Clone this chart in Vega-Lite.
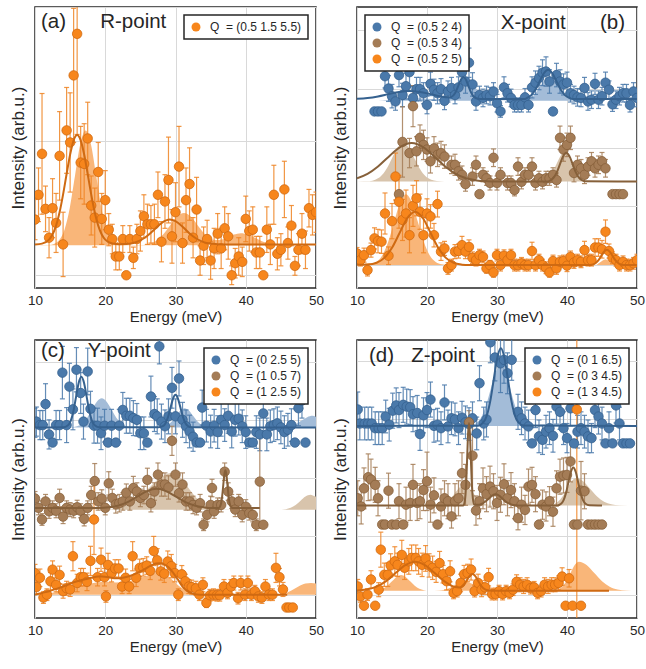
{
"$schema": "https://vega.github.io/schema/vega-lite/v6.json",
"padding": {"left": 8, "top": 6, "right": 0, "bottom": 4},
"config": {
 "font": "Liberation Sans",
 "view": {"stroke": "#262626", "strokeWidth": 1.5},
 "axis": {"domain": false, "ticks": false, "grid": true, "gridColor": "#d9d9d9", "gridWidth": 1, "labelFont": "Liberation Sans", "labelFontSize": 13.5, "labelColor": "#262626", "titleFont": "Liberation Sans", "titleFontWeight": "normal", "titleColor": "#262626"},
 "axisX": {"titleFontSize": 15, "labelPadding": 5, "titlePadding": 3, "labelFlush": false},
 "axisY": {"labels": false, "titleFontSize": 17, "titlePadding": 8},
 "legend": {"fillColor": "white", "strokeColor": "#262626", "strokeWidth": 1.5, "padding": 6, "offset": 8, "labelFont": "Liberation Sans", "labelFontSize": 12, "labelColor": "#262626", "symbolType": "circle", "symbolSize": 80, "symbolStrokeWidth": 0, "rowPadding": 4, "labelOffset": 8},
 "title": {"font": "Liberation Sans", "fontSize": 20.5, "fontWeight": "normal", "color": "#262626", "frame": "group", "baseline": "alphabetic"}
},
"datasets": {
"aP": [
{"s":"or","x":10,"y":0.415,"e":0.15},{"s":"or","x":10.5,"y":0.6,"e":0.2},{"s":"or","x":11,"y":0.905,"e":0.45},{"s":"or","x":11.5,"y":0.495,"e":0.17},{"s":"or","x":12,"y":0.28,"e":0.15},{"s":"or","x":12.5,"y":0.5,"e":0.22},{"s":"or","x":13,"y":0.39,"e":0.22},{"s":"or","x":13.5,"y":0.89,"e":0.33},{"s":"or","x":14,"y":0.23,"e":0.24},{"s":"or","x":14.5,"y":1.08,"e":0.32},{"s":"or","x":15,"y":0.99,"e":0.37},{"s":"or","x":15.5,"y":1.49,"e":0.5},{"s":"or","x":16,"y":1.8,"e":0.75},{"s":"or","x":16.5,"y":0.84,"e":0.27},{"s":"or","x":17,"y":0.83,"e":0.3},{"s":"or","x":17.5,"y":1.02,"e":0.27},{"s":"or","x":18,"y":0.52,"e":0.22},{"s":"or","x":18.5,"y":0.43,"e":0.22},{"s":"or","x":19,"y":0.77,"e":0.22},{"s":"or","x":19.5,"y":0.42,"e":0.19},{"s":"or","x":20,"y":0.56,"e":0.22},{"s":"or","x":20.5,"y":0.34,"e":0.12},{"s":"or","x":21,"y":0.27,"e":0.11},{"s":"or","x":21.5,"y":0.14,"e":0.1},{"s":"or","x":22,"y":0.14,"e":0.1},{"s":"or","x":22.5,"y":0.27,"e":0.1},{"s":"or","x":23,"y":0,"e":0},{"s":"or","x":23.5,"y":0.27,"e":0.1},{"s":"or","x":24,"y":0.13,"e":0.08},{"s":"or","x":24.5,"y":0.27,"e":0.11},{"s":"or","x":25,"y":0.33,"e":0.15},{"s":"or","x":25.5,"y":0.44,"e":0.16},{"s":"or","x":26,"y":0.38,"e":0.15},{"s":"or","x":26.5,"y":0.38,"e":0.14},{"s":"or","x":27,"y":0.38,"e":0.15},{"s":"or","x":27.5,"y":0.6,"e":0.17},{"s":"or","x":28,"y":0.25,"e":0.15},{"s":"or","x":28.5,"y":0.55,"e":0.2},{"s":"or","x":29,"y":0.71,"e":0.32},{"s":"or","x":29.5,"y":0.29,"e":0.2},{"s":"or","x":30,"y":0.47,"e":0.22},{"s":"or","x":30.5,"y":0.81,"e":0.3},{"s":"or","x":31,"y":0.24,"e":0.15},{"s":"or","x":31.5,"y":0.56,"e":0.24},{"s":"or","x":32,"y":0.68,"e":0.27},{"s":"or","x":32.5,"y":0.28,"e":0.15},{"s":"or","x":33,"y":0.49,"e":0.24},{"s":"or","x":33.5,"y":0.11,"e":0.11},{"s":"or","x":34,"y":0.22,"e":0.14},{"s":"or","x":34.5,"y":0.27,"e":0.14},{"s":"or","x":35,"y":0.11,"e":0.14},{"s":"or","x":35.5,"y":0.2,"e":0.15},{"s":"or","x":36,"y":0.31,"e":0.15},{"s":"or","x":36.5,"y":0.2,"e":0.15},{"s":"or","x":37,"y":0.35,"e":0.16},{"s":"or","x":37.5,"y":0.29,"e":0.17},{"s":"or","x":38,"y":0,"e":0.07},{"s":"or","x":38.5,"y":0.09,"e":0.11},{"s":"or","x":39,"y":0.14,"e":0.14},{"s":"or","x":39.5,"y":0.1,"e":0.11},{"s":"or","x":40,"y":0.42,"e":0.17},{"s":"or","x":40.5,"y":0.33,"e":0.15},{"s":"or","x":41,"y":0.34,"e":0.17},{"s":"or","x":41.5,"y":0.17,"e":0.12},{"s":"or","x":42,"y":0.17,"e":0.12},{"s":"or","x":42.5,"y":0,"e":0},{"s":"or","x":43,"y":0.34,"e":0.17},{"s":"or","x":43.5,"y":0.23,"e":0.15},{"s":"or","x":44,"y":0.6,"e":0.22},{"s":"or","x":44.5,"y":0.16,"e":0.12},{"s":"or","x":45,"y":0.19,"e":0.12},{"s":"or","x":45.5,"y":0.64,"e":0.21},{"s":"or","x":46,"y":0.24,"e":0.12},{"s":"or","x":46.5,"y":0.37,"e":0.15},{"s":"or","x":47,"y":0.07,"e":0.07},{"s":"or","x":47.5,"y":0.19,"e":0.12},{"s":"or","x":48,"y":0.31,"e":0.15},{"s":"or","x":48.5,"y":0.19,"e":0.14},{"s":"or","x":49,"y":0.5,"e":0.14},{"s":"or","x":49.5,"y":0.45,"e":0.15},{"s":"or","x":50,"y":0.47,"e":0.15}
],
"aF": [
{"s":"or","x":10,"y":0.23},{"s":"or","x":11,"y":0.236},{"s":"or","x":12,"y":0.266},{"s":"or","x":12.5,"y":0.304},{"s":"or","x":13,"y":0.37},{"s":"or","x":13.5,"y":0.47},{"s":"or","x":14,"y":0.603},{"s":"or","x":14.5,"y":0.755},{"s":"or","x":15,"y":0.9},{"s":"or","x":15.5,"y":1.006},{"s":"or","x":16,"y":1.045},{"s":"or","x":16.5,"y":1.006},{"s":"or","x":17,"y":0.9},{"s":"or","x":17.5,"y":0.755},{"s":"or","x":18,"y":0.603},{"s":"or","x":18.5,"y":0.47},{"s":"or","x":19,"y":0.37},{"s":"or","x":19.5,"y":0.304},{"s":"or","x":20,"y":0.266},{"s":"or","x":21,"y":0.237},{"s":"or","x":22,"y":0.232},{"s":"or","x":23,"y":0.233},{"s":"or","x":24,"y":0.241},{"s":"or","x":25,"y":0.26},{"s":"or","x":26,"y":0.294},{"s":"or","x":27,"y":0.342},{"s":"or","x":28,"y":0.389},{"s":"or","x":29.2,"y":0.415},{"s":"or","x":30,"y":0.403},{"s":"or","x":31,"y":0.362},{"s":"or","x":32,"y":0.312},{"s":"or","x":33,"y":0.272},{"s":"or","x":34,"y":0.247},{"s":"or","x":35,"y":0.236},{"s":"or","x":36,"y":0.232},{"s":"or","x":38,"y":0.23},{"s":"or","x":50,"y":0.23}
],
"aA": [
{"s":"or","x":10,"y":0.224,"b":0.224},{"s":"or","x":12,"y":0.225,"b":0.224},{"s":"or","x":12.7,"y":0.233,"b":0.224},{"s":"or","x":13.45,"y":0.262,"b":0.224},{"s":"or","x":14.2,"y":0.34,"b":0.224},{"s":"or","x":14.95,"y":0.502,"b":0.224},{"s":"or","x":15.7,"y":0.744,"b":0.224},{"s":"or","x":16.45,"y":0.979,"b":0.224},{"s":"or","x":17.2,"y":1.08,"b":0.224},{"s":"or","x":17.95,"y":0.979,"b":0.224},{"s":"or","x":18.7,"y":0.744,"b":0.224},{"s":"or","x":19.45,"y":0.502,"b":0.224},{"s":"or","x":20.2,"y":0.34,"b":0.224},{"s":"or","x":20.95,"y":0.262,"b":0.224},{"s":"or","x":21.7,"y":0.233,"b":0.224},{"s":"or","x":22.5,"y":0.225,"b":0.224},{"s":"or","x":25.5,"y":0.226,"b":0.224},{"s":"or","x":26.2,"y":0.235,"b":0.224},{"s":"or","x":27.2,"y":0.256,"b":0.224},{"s":"or","x":28.2,"y":0.302,"b":0.224},{"s":"or","x":29.2,"y":0.37,"b":0.224},{"s":"or","x":30.2,"y":0.436,"b":0.224},{"s":"or","x":31.2,"y":0.464,"b":0.224},{"s":"or","x":32.2,"y":0.436,"b":0.224},{"s":"or","x":33.2,"y":0.37,"b":0.224},{"s":"or","x":34.2,"y":0.306,"b":0.224},{"s":"or","x":35.2,"y":0.267,"b":0.224},{"s":"or","x":36.2,"y":0.262,"b":0.224},{"s":"or","x":37.3,"y":0.281,"b":0.224},{"s":"or","x":38.3,"y":0.303,"b":0.224},{"s":"or","x":39.3,"y":0.314,"b":0.224},{"s":"or","x":40.3,"y":0.303,"b":0.224},{"s":"or","x":41.3,"y":0.279,"b":0.224},{"s":"or","x":42.3,"y":0.253,"b":0.224},{"s":"or","x":43.3,"y":0.236,"b":0.224},{"s":"or","x":44.3,"y":0.227,"b":0.224},{"s":"or","x":46,"y":0.224,"b":0.224},{"s":"or","x":50,"y":0.224,"b":0.224}
],
"bP": [
{"s":"bl","x":12.5,"y":2.62,"e":0},{"s":"bl","x":13,"y":2.62,"e":0},{"s":"bl","x":13.5,"y":2.62,"e":0},{"s":"bl","x":14,"y":3.22,"e":0.2},{"s":"bl","x":14.5,"y":3.01,"e":0.22},{"s":"bl","x":15,"y":2.88,"e":0.2},{"s":"bl","x":15.5,"y":2.79,"e":0.15},{"s":"bl","x":16,"y":3.24,"e":0.2},{"s":"bl","x":16.5,"y":2.9,"e":0.2},{"s":"bl","x":17,"y":3.05,"e":0.22},{"s":"bl","x":17.5,"y":3.29,"e":0.25},{"s":"bl","x":18,"y":2.85,"e":0.2},{"s":"bl","x":18.5,"y":3.0,"e":0.2},{"s":"bl","x":19,"y":3.0,"e":0.2},{"s":"bl","x":19.5,"y":2.93,"e":0.18},{"s":"bl","x":20,"y":2.73,"e":0.15},{"s":"bl","x":20.5,"y":3.09,"e":0.2},{"s":"bl","x":21,"y":2.99,"e":0.18},{"s":"bl","x":21.5,"y":2.93,"e":0.18},{"s":"bl","x":22,"y":3.0,"e":0.18},{"s":"bl","x":22.5,"y":2.8,"e":0.15},{"s":"bl","x":23,"y":2.96,"e":0.18},{"s":"bl","x":23.5,"y":3.02,"e":0.18},{"s":"bl","x":24,"y":2.9,"e":0.15},{"s":"bl","x":24.5,"y":3.03,"e":0.18},{"s":"bl","x":25,"y":3.29,"e":0.2},{"s":"bl","x":25.5,"y":3.13,"e":0.2},{"s":"bl","x":26,"y":3.45,"e":0.25},{"s":"bl","x":26.5,"y":3.08,"e":0.2},{"s":"bl","x":27,"y":2.79,"e":0.15},{"s":"bl","x":27.5,"y":2.9,"e":0.15},{"s":"bl","x":28,"y":2.85,"e":0.15},{"s":"bl","x":28.5,"y":2.9,"e":0.15},{"s":"bl","x":29,"y":2.88,"e":0.15},{"s":"bl","x":29.5,"y":2.96,"e":0.15},{"s":"bl","x":30,"y":2.76,"e":0.15},{"s":"bl","x":30.5,"y":2.62,"e":0.1},{"s":"bl","x":31,"y":3.03,"e":0.18},{"s":"bl","x":31.5,"y":2.93,"e":0.15},{"s":"bl","x":32,"y":2.85,"e":0.15},{"s":"bl","x":32.5,"y":2.73,"e":0.12},{"s":"bl","x":33,"y":2.73,"e":0.12},{"s":"bl","x":33.5,"y":2.73,"e":0.12},{"s":"bl","x":34,"y":2.86,"e":0.15},{"s":"bl","x":34.5,"y":2.73,"e":0.12},{"s":"bl","x":35,"y":3.03,"e":0.18},{"s":"bl","x":35.5,"y":3.11,"e":0.2},{"s":"bl","x":36,"y":3.19,"e":0.2},{"s":"bl","x":36.5,"y":3.28,"e":0.22},{"s":"bl","x":37,"y":3.3,"e":0.25},{"s":"bl","x":37.5,"y":3.13,"e":0.2},{"s":"bl","x":38,"y":2.62,"e":0},{"s":"bl","x":38.5,"y":3.24,"e":0.2},{"s":"bl","x":39,"y":3.13,"e":0.2},{"s":"bl","x":39.5,"y":3.08,"e":0.18},{"s":"bl","x":40,"y":3.11,"e":0.18},{"s":"bl","x":40.5,"y":2.93,"e":0.15},{"s":"bl","x":41,"y":2.9,"e":0.15},{"s":"bl","x":41.5,"y":2.86,"e":0.15},{"s":"bl","x":42,"y":2.85,"e":0.15},{"s":"bl","x":42.5,"y":3.02,"e":0.18},{"s":"bl","x":43,"y":2.79,"e":0.15},{"s":"bl","x":43.5,"y":2.82,"e":0.15},{"s":"bl","x":44,"y":3.09,"e":0.18},{"s":"bl","x":44.5,"y":2.82,"e":0.15},{"s":"bl","x":45,"y":2.88,"e":0.15},{"s":"bl","x":45.5,"y":3.11,"e":0.18},{"s":"bl","x":46,"y":2.99,"e":0.15},{"s":"bl","x":46.5,"y":2.74,"e":0.12},{"s":"bl","x":47,"y":2.82,"e":0.15},{"s":"bl","x":47.5,"y":2.88,"e":0.15},{"s":"bl","x":48,"y":2.93,"e":0.15},{"s":"bl","x":48.5,"y":2.93,"e":0.15},{"s":"bl","x":49,"y":2.73,"e":0.12},{"s":"bl","x":49.5,"y":2.96,"e":0.15},{"s":"bl","x":50,"y":2.85,"e":0.15},
{"s":"br","x":16,"y":1.21,"e":0},{"s":"br","x":16.5,"y":2.1,"e":0.6},{"s":"br","x":17.5,"y":1.91,"e":0.25},{"s":"br","x":18,"y":2.71,"e":0.35},{"s":"br","x":18.5,"y":1.94,"e":0.25},{"s":"br","x":19,"y":2.17,"e":0.22},{"s":"br","x":19.5,"y":2.05,"e":0.25},{"s":"br","x":20,"y":1.97,"e":0.2},{"s":"br","x":20.5,"y":1.77,"e":0.2},{"s":"br","x":21,"y":1.99,"e":0.2},{"s":"br","x":21.5,"y":1.88,"e":0.2},{"s":"br","x":22,"y":1.91,"e":0.2},{"s":"br","x":22.5,"y":1.85,"e":0.2},{"s":"br","x":23.5,"y":1.71,"e":0.15},{"s":"br","x":24,"y":1.71,"e":0.18},{"s":"br","x":24.5,"y":1.6,"e":0.15},{"s":"br","x":25,"y":1.54,"e":0.15},{"s":"br","x":25.5,"y":1.38,"e":0.12},{"s":"br","x":26.5,"y":1.51,"e":0.15},{"s":"br","x":27,"y":1.71,"e":0.15},{"s":"br","x":27.5,"y":1.21,"e":0},{"s":"br","x":28,"y":1.54,"e":0.12},{"s":"br","x":28.5,"y":1.48,"e":0.12},{"s":"br","x":29,"y":1.4,"e":0.12},{"s":"br","x":29.5,"y":1.83,"e":0.15},{"s":"br","x":30,"y":1.4,"e":0.12},{"s":"br","x":30.5,"y":1.54,"e":0.12},{"s":"br","x":31.5,"y":1.4,"e":0.12},{"s":"br","x":32,"y":1.4,"e":0.12},{"s":"br","x":32.5,"y":1.28,"e":0.1},{"s":"br","x":33,"y":1.68,"e":0.15},{"s":"br","x":33.5,"y":1.42,"e":0.12},{"s":"br","x":34,"y":1.54,"e":0.12},{"s":"br","x":34.5,"y":1.54,"e":0.12},{"s":"br","x":35,"y":1.68,"e":0.15},{"s":"br","x":35.5,"y":1.4,"e":0.12},{"s":"br","x":36,"y":1.48,"e":0.12},{"s":"br","x":36.5,"y":1.42,"e":0.12},{"s":"br","x":37,"y":1.48,"e":0.12},{"s":"br","x":37.5,"y":1.48,"e":0.12},{"s":"br","x":38,"y":1.54,"e":0.12},{"s":"br","x":38.5,"y":1.45,"e":0.12},{"s":"br","x":39,"y":2.17,"e":0.2},{"s":"br","x":39.5,"y":1.97,"e":0.2},{"s":"br","x":40,"y":2.05,"e":0.2},{"s":"br","x":40.5,"y":2.17,"e":0.2},{"s":"br","x":41,"y":1.57,"e":0.15},{"s":"br","x":41.5,"y":1.71,"e":0.15},{"s":"br","x":42,"y":1.65,"e":0.15},{"s":"br","x":42.5,"y":1.54,"e":0.15},{"s":"br","x":43,"y":1.68,"e":0.15},{"s":"br","x":43.5,"y":1.77,"e":0.15},{"s":"br","x":44,"y":1.65,"e":0.15},{"s":"br","x":44.5,"y":1.71,"e":0.15},{"s":"br","x":45,"y":1.77,"e":0.15},{"s":"br","x":45.5,"y":1.65,"e":0.15},{"s":"br","x":46.5,"y":1.21,"e":0},{"s":"br","x":47,"y":1.21,"e":0},{"s":"br","x":47.5,"y":1.21,"e":0},{"s":"br","x":48,"y":1.21,"e":0},
{"s":"or","x":10,"y":0.2,"e":0.1},{"s":"or","x":10.5,"y":0.085,"e":0.1},{"s":"or","x":11,"y":0.17,"e":0.12},{"s":"or","x":11.5,"y":-0.085,"e":0.1},{"s":"or","x":12,"y":0.256,"e":0.12},{"s":"or","x":12.5,"y":0.456,"e":0.18},{"s":"or","x":13,"y":0.41,"e":0.2},{"s":"or","x":13.5,"y":0.4,"e":0.2},{"s":"or","x":14,"y":0.88,"e":0.35},{"s":"or","x":14.5,"y":0.16,"e":0.15},{"s":"or","x":15,"y":0.75,"e":0.3},{"s":"or","x":15.5,"y":1.51,"e":0.4},{"s":"or","x":16,"y":1.08,"e":0.45},{"s":"or","x":16.5,"y":0.77,"e":0.35},{"s":"or","x":17,"y":0.88,"e":0.4},{"s":"or","x":17.5,"y":0.51,"e":0.3},{"s":"or","x":18,"y":1.01,"e":0.35},{"s":"or","x":18.5,"y":1.14,"e":0.3},{"s":"or","x":19,"y":0.91,"e":0.3},{"s":"or","x":19.5,"y":0.51,"e":0.3},{"s":"or","x":20,"y":0.88,"e":0.25},{"s":"or","x":20.5,"y":0.83,"e":0.2},{"s":"or","x":21,"y":0.51,"e":0.2},{"s":"or","x":21.5,"y":1.04,"e":0.22},{"s":"or","x":22,"y":0.23,"e":0.15},{"s":"or","x":22.5,"y":0.285,"e":0.12},{"s":"or","x":23,"y":-0.057,"e":0.1},{"s":"or","x":23.5,"y":0,"e":0.1},{"s":"or","x":24,"y":0.23,"e":0.12},{"s":"or","x":24.5,"y":0.24,"e":0.12},{"s":"or","x":25,"y":0.34,"e":0.15},{"s":"or","x":25.5,"y":0.23,"e":0.12},{"s":"or","x":26,"y":0.31,"e":0.12},{"s":"or","x":26.5,"y":0.125,"e":0.1},{"s":"or","x":27,"y":0.085,"e":0.1},{"s":"or","x":27.5,"y":0.17,"e":0.1},{"s":"or","x":28,"y":0.14,"e":0.1},{"s":"or","x":28.5,"y":-0.057,"e":0.08},{"s":"or","x":29,"y":0,"e":0.08},{"s":"or","x":29.5,"y":-0.125,"e":0.08},{"s":"or","x":30,"y":0.17,"e":0.1},{"s":"or","x":30.5,"y":0,"e":0.1},{"s":"or","x":31,"y":0.16,"e":0.1},{"s":"or","x":31.5,"y":0.085,"e":0.1},{"s":"or","x":32,"y":0.17,"e":0.1},{"s":"or","x":32.5,"y":0,"e":0.1},{"s":"or","x":33,"y":0,"e":0.1},{"s":"or","x":33.5,"y":0.03,"e":0.1},{"s":"or","x":34,"y":0,"e":0.1},{"s":"or","x":34.5,"y":0,"e":0.1},{"s":"or","x":35,"y":0.24,"e":0.15},{"s":"or","x":35.5,"y":0,"e":0.1},{"s":"or","x":36,"y":0.085,"e":0.1},{"s":"or","x":36.5,"y":0,"e":0.1},{"s":"or","x":37,"y":-0.045,"e":0.1},{"s":"or","x":37.5,"y":-0.125,"e":0.08},{"s":"or","x":38,"y":0.07,"e":0.1},{"s":"or","x":38.5,"y":-0.057,"e":0.1},{"s":"or","x":39,"y":0.057,"e":0.1},{"s":"or","x":39.5,"y":0.07,"e":0.1},{"s":"or","x":40,"y":-0.01,"e":0.1},{"s":"or","x":40.5,"y":0.14,"e":0.1},{"s":"or","x":41,"y":0.045,"e":0.1},{"s":"or","x":41.5,"y":0.085,"e":0.1},{"s":"or","x":42,"y":0.057,"e":0.1},{"s":"or","x":42.5,"y":0.256,"e":0.15},{"s":"or","x":43,"y":0.085,"e":0.1},{"s":"or","x":43.5,"y":0.085,"e":0.1},{"s":"or","x":44,"y":0.3,"e":0.15},{"s":"or","x":44.5,"y":0.3,"e":0.15},{"s":"or","x":45,"y":0.27,"e":0.15},{"s":"or","x":45.5,"y":0.57,"e":0.2},{"s":"or","x":46,"y":0.24,"e":0.12},{"s":"or","x":46.5,"y":0.125,"e":0.1},{"s":"or","x":47,"y":0.085,"e":0.1},{"s":"or","x":47.5,"y":0,"e":0.1},{"s":"or","x":48,"y":0.057,"e":0.1},{"s":"or","x":48.5,"y":0,"e":0.1},{"s":"or","x":49,"y":0,"e":0.1},{"s":"or","x":49.5,"y":0.03,"e":0.1},{"s":"or","x":50,"y":0.085,"e":0.1}
],
"bF": [
{"s":"bl","x":10,"y":2.836},{"s":"bl","x":11.5,"y":2.849},{"s":"bl","x":13,"y":2.876},{"s":"bl","x":14.5,"y":2.915},{"s":"bl","x":16,"y":2.953},{"s":"bl","x":17.5,"y":2.97},{"s":"bl","x":19,"y":2.953},{"s":"bl","x":20.5,"y":2.915},{"s":"bl","x":22,"y":2.876},{"s":"bl","x":23,"y":2.86},{"s":"bl","x":23.5,"y":2.868},{"s":"bl","x":24,"y":2.928},{"s":"bl","x":24.5,"y":3.064},{"s":"bl","x":24.85,"y":3.163},{"s":"bl","x":25.2,"y":3.206},{"s":"bl","x":25.55,"y":3.163},{"s":"bl","x":25.9,"y":3.06},{"s":"bl","x":26.25,"y":2.955},{"s":"bl","x":26.6,"y":2.883},{"s":"bl","x":27.3,"y":2.834},{"s":"bl","x":28,"y":2.83},{"s":"bl","x":34,"y":2.83},{"s":"bl","x":34.3,"y":2.852},{"s":"bl","x":34.9,"y":2.898},{"s":"bl","x":35.5,"y":2.992},{"s":"bl","x":36.1,"y":3.133},{"s":"bl","x":36.7,"y":3.271},{"s":"bl","x":37.3,"y":3.33},{"s":"bl","x":37.9,"y":3.271},{"s":"bl","x":38.5,"y":3.133},{"s":"bl","x":39.1,"y":2.992},{"s":"bl","x":39.7,"y":2.898},{"s":"bl","x":40.3,"y":2.852},{"s":"bl","x":41,"y":2.83},{"s":"bl","x":50,"y":2.83},
{"s":"br","x":10,"y":1.48},{"s":"br","x":11.5,"y":1.555},{"s":"br","x":13,"y":1.681},{"s":"br","x":14.5,"y":1.845},{"s":"br","x":16,"y":1.999},{"s":"br","x":17.8,"y":2.08},{"s":"br","x":19.6,"y":1.999},{"s":"br","x":21.1,"y":1.845},{"s":"br","x":22.6,"y":1.681},{"s":"br","x":24.1,"y":1.555},{"s":"br","x":25.6,"y":1.48},{"s":"br","x":27.1,"y":1.444},{"s":"br","x":28.6,"y":1.431},{"s":"br","x":30,"y":1.427},{"s":"br","x":37.2,"y":1.425},{"s":"br","x":37.6,"y":1.444},{"s":"br","x":38.1,"y":1.491},{"s":"br","x":38.55,"y":1.584},{"s":"br","x":39,"y":1.722},{"s":"br","x":39.45,"y":1.857},{"s":"br","x":39.9,"y":1.915},{"s":"br","x":40.35,"y":1.857},{"s":"br","x":40.8,"y":1.722},{"s":"br","x":41.25,"y":1.584},{"s":"br","x":41.7,"y":1.491},{"s":"br","x":42.2,"y":1.444},{"s":"br","x":42.6,"y":1.43},{"s":"br","x":50,"y":1.425},
{"s":"or","x":10,"y":0.005},{"s":"or","x":11.5,"y":0.01},{"s":"or","x":12.8,"y":0.04},{"s":"or","x":13.9,"y":0.123},{"s":"or","x":15,"y":0.296},{"s":"or","x":16.1,"y":0.552},{"s":"or","x":17.2,"y":0.803},{"s":"or","x":18.3,"y":0.91},{"s":"or","x":19.4,"y":0.803},{"s":"or","x":20.5,"y":0.552},{"s":"or","x":21.6,"y":0.296},{"s":"or","x":22.7,"y":0.123},{"s":"or","x":23.8,"y":0.04},{"s":"or","x":25,"y":0.008},{"s":"or","x":26,"y":0},{"s":"or","x":43,"y":0},{"s":"or","x":43.7,"y":0.011},{"s":"or","x":44.1,"y":0.035},{"s":"or","x":44.5,"y":0.085},{"s":"or","x":44.9,"y":0.158},{"s":"or","x":45.3,"y":0.229},{"s":"or","x":45.7,"y":0.26},{"s":"or","x":46.1,"y":0.229},{"s":"or","x":46.5,"y":0.158},{"s":"or","x":46.9,"y":0.085},{"s":"or","x":47.3,"y":0.035},{"s":"or","x":47.7,"y":0.011},{"s":"or","x":48.5,"y":0},{"s":"or","x":50,"y":0}
],
"bA": [
{"s":"bl","x":10,"y":2.8,"b":2.8},{"s":"bl","x":13,"y":2.802,"b":2.8},{"s":"bl","x":15.5,"y":2.83,"b":2.8},{"s":"bl","x":18,"y":2.85,"b":2.8},{"s":"bl","x":20.5,"y":2.83,"b":2.8},{"s":"bl","x":22.55,"y":2.816,"b":2.8},{"s":"bl","x":23.2,"y":2.845,"b":2.8},{"s":"bl","x":23.85,"y":2.907,"b":2.8},{"s":"bl","x":24.5,"y":3.0,"b":2.8},{"s":"bl","x":25.15,"y":3.091,"b":2.8},{"s":"bl","x":25.8,"y":3.13,"b":2.8},{"s":"bl","x":26.45,"y":3.091,"b":2.8},{"s":"bl","x":27.1,"y":3.0,"b":2.8},{"s":"bl","x":27.75,"y":2.907,"b":2.8},{"s":"bl","x":28.4,"y":2.845,"b":2.8},{"s":"bl","x":29.05,"y":2.816,"b":2.8},{"s":"bl","x":29.7,"y":2.805,"b":2.8},{"s":"bl","x":33.5,"y":2.806,"b":2.8},{"s":"bl","x":34.25,"y":2.818,"b":2.8},{"s":"bl","x":34.9,"y":2.857,"b":2.8},{"s":"bl","x":35.55,"y":2.937,"b":2.8},{"s":"bl","x":36.2,"y":3.055,"b":2.8},{"s":"bl","x":36.85,"y":3.17,"b":2.8},{"s":"bl","x":37.5,"y":3.22,"b":2.8},{"s":"bl","x":38.15,"y":3.17,"b":2.8},{"s":"bl","x":38.8,"y":3.055,"b":2.8},{"s":"bl","x":39.45,"y":2.937,"b":2.8},{"s":"bl","x":40.1,"y":2.857,"b":2.8},{"s":"bl","x":40.75,"y":2.818,"b":2.8},{"s":"bl","x":41.5,"y":2.803,"b":2.8},{"s":"bl","x":50,"y":2.8,"b":2.8},
{"s":"br","x":10,"y":1.425,"b":1.425},{"s":"br","x":11.8,"y":1.428,"b":1.425},{"s":"br","x":12.6,"y":1.454,"b":1.425},{"s":"br","x":13.4,"y":1.513,"b":1.425},{"s":"br","x":14.2,"y":1.638,"b":1.425},{"s":"br","x":15,"y":1.823,"b":1.425},{"s":"br","x":15.8,"y":2.003,"b":1.425},{"s":"br","x":16.6,"y":2.08,"b":1.425},{"s":"br","x":17.4,"y":2.003,"b":1.425},{"s":"br","x":18.2,"y":1.823,"b":1.425},{"s":"br","x":19,"y":1.638,"b":1.425},{"s":"br","x":19.8,"y":1.513,"b":1.425},{"s":"br","x":20.6,"y":1.454,"b":1.425},{"s":"br","x":21.4,"y":1.432,"b":1.425},{"s":"br","x":22.5,"y":1.425,"b":1.425},{"s":"br","x":36,"y":1.425,"b":1.425},{"s":"br","x":36.85,"y":1.447,"b":1.425},{"s":"br","x":37.4,"y":1.491,"b":1.425},{"s":"br","x":37.95,"y":1.584,"b":1.425},{"s":"br","x":38.5,"y":1.722,"b":1.425},{"s":"br","x":39.05,"y":1.857,"b":1.425},{"s":"br","x":39.6,"y":1.915,"b":1.425},{"s":"br","x":40.15,"y":1.857,"b":1.425},{"s":"br","x":40.7,"y":1.722,"b":1.425},{"s":"br","x":41.25,"y":1.584,"b":1.425},{"s":"br","x":41.8,"y":1.491,"b":1.425},{"s":"br","x":42.35,"y":1.447,"b":1.425},{"s":"br","x":43,"y":1.428,"b":1.425},{"s":"br","x":50,"y":1.425,"b":1.425},
{"s":"or","x":10,"y":0,"b":0},{"s":"or","x":11.9,"y":0.01,"b":0},{"s":"or","x":12.75,"y":0.053,"b":0},{"s":"or","x":13.6,"y":0.164,"b":0},{"s":"or","x":14.45,"y":0.394,"b":0},{"s":"or","x":15.3,"y":0.735,"b":0},{"s":"or","x":16.15,"y":1.067,"b":0},{"s":"or","x":17,"y":1.21,"b":0},{"s":"or","x":17.85,"y":1.067,"b":0},{"s":"or","x":18.7,"y":0.735,"b":0},{"s":"or","x":19.55,"y":0.394,"b":0},{"s":"or","x":20.4,"y":0.164,"b":0},{"s":"or","x":21.25,"y":0.053,"b":0},{"s":"or","x":22.1,"y":0.013,"b":0},{"s":"or","x":23,"y":0,"b":0},{"s":"or","x":44,"y":0,"b":0},{"s":"or","x":44.7,"y":0.046,"b":0},{"s":"or","x":45.1,"y":0.08,"b":0},{"s":"or","x":45.5,"y":0.1,"b":0},{"s":"or","x":45.9,"y":0.08,"b":0},{"s":"or","x":46.3,"y":0.046,"b":0},{"s":"or","x":47,"y":0.01,"b":0},{"s":"or","x":50,"y":0,"b":0}
],
"cP": [
{"s":"bl","x":10,"y":2.95,"e":0.25},{"s":"bl","x":10.2,"y":2.97,"e":0.25},{"s":"bl","x":10.7,"y":2.91,"e":0.25},{"s":"bl","x":11.1,"y":2.91,"e":0.25},{"s":"bl","x":11.5,"y":3.27,"e":0.35},{"s":"bl","x":12,"y":2.75,"e":0.25},{"s":"bl","x":12.5,"y":2.61,"e":0},{"s":"bl","x":13,"y":2.91,"e":0.25},{"s":"bl","x":13.5,"y":2.91,"e":0.25},{"s":"bl","x":13.9,"y":3.81,"e":0.45},{"s":"bl","x":14.5,"y":2.91,"e":0.3},{"s":"bl","x":14.9,"y":3.57,"e":0.4},{"s":"bl","x":15.4,"y":3.18,"e":0.35},{"s":"bl","x":15.9,"y":3.86,"e":0.38},{"s":"bl","x":16.5,"y":3.46,"e":0.35},{"s":"bl","x":16.9,"y":2.97,"e":0.3},{"s":"bl","x":17.5,"y":3.83,"e":0.4},{"s":"bl","x":17.9,"y":3.19,"e":0.3},{"s":"bl","x":18.4,"y":2.9,"e":0.3},{"s":"bl","x":18.9,"y":2.9,"e":0.3},{"s":"bl","x":19.4,"y":2.77,"e":0.28},{"s":"bl","x":19.9,"y":2.9,"e":0.28},{"s":"bl","x":20.4,"y":2.61,"e":0},{"s":"bl","x":20.9,"y":2.9,"e":0.28},{"s":"bl","x":21.5,"y":2.61,"e":0},{"s":"bl","x":22,"y":2.9,"e":0.28},{"s":"bl","x":22.5,"y":3.17,"e":0.3},{"s":"bl","x":23,"y":3.07,"e":0.3},{"s":"bl","x":23.5,"y":3.07,"e":0.3},{"s":"bl","x":24,"y":3.03,"e":0.3},{"s":"bl","x":24.5,"y":3.0,"e":0.28},{"s":"bl","x":25,"y":2.77,"e":0.28},{"s":"bl","x":25.5,"y":2.77,"e":0.28},{"s":"bl","x":26,"y":2.61,"e":0},{"s":"bl","x":26.5,"y":3.4,"e":0.35},{"s":"bl","x":27,"y":3.1,"e":0.3},{"s":"bl","x":27.4,"y":3.06,"e":0.3},{"s":"bl","x":27.7,"y":4.26,"e":0.3},{"s":"bl","x":28,"y":2.97,"e":0.3},{"s":"bl","x":28.5,"y":2.89,"e":0.28},{"s":"bl","x":29,"y":3.06,"e":0.3},{"s":"bl","x":29.5,"y":3.55,"e":0.35},{"s":"bl","x":30,"y":3.06,"e":0.3},{"s":"bl","x":30.5,"y":3.71,"e":0.3},{"s":"bl","x":31,"y":3.0,"e":0.3},{"s":"bl","x":31.5,"y":2.89,"e":0.28},{"s":"bl","x":32,"y":2.8,"e":0.28},{"s":"bl","x":32.5,"y":2.71,"e":0.25},{"s":"bl","x":33,"y":2.61,"e":0},{"s":"bl","x":33.5,"y":2.61,"e":0},{"s":"bl","x":33.8,"y":3.21,"e":0.3},{"s":"bl","x":34.4,"y":2.9,"e":0.28},{"s":"bl","x":35,"y":2.8,"e":0.28},{"s":"bl","x":35.5,"y":2.9,"e":0.28},{"s":"bl","x":36,"y":2.79,"e":0.28},{"s":"bl","x":36.5,"y":3.0,"e":0.28},{"s":"bl","x":37,"y":2.91,"e":0.28},{"s":"bl","x":37.5,"y":3.07,"e":0.3},{"s":"bl","x":38,"y":2.8,"e":0.28},{"s":"bl","x":38.5,"y":3.0,"e":0.28},{"s":"bl","x":39,"y":3.02,"e":0.28},{"s":"bl","x":39.5,"y":2.89,"e":0.28},{"s":"bl","x":40,"y":2.79,"e":0.28},{"s":"bl","x":40.5,"y":2.61,"e":0},{"s":"bl","x":41,"y":2.61,"e":0},{"s":"bl","x":41.5,"y":2.79,"e":0.28},{"s":"bl","x":42,"y":2.75,"e":0.28},{"s":"bl","x":42.5,"y":3.11,"e":0.3},{"s":"bl","x":43,"y":2.75,"e":0.28},{"s":"bl","x":43.5,"y":2.89,"e":0.28},{"s":"bl","x":44,"y":2.91,"e":0.28},{"s":"bl","x":44.5,"y":2.94,"e":0.28},{"s":"bl","x":45,"y":2.87,"e":0.28},{"s":"bl","x":45.5,"y":2.79,"e":0.28},{"s":"bl","x":46,"y":2.83,"e":0.28},{"s":"bl","x":46.5,"y":2.91,"e":0.28},{"s":"bl","x":47,"y":2.61,"e":0},{"s":"bl","x":47.5,"y":3.2,"e":0.3},{"s":"bl","x":48,"y":3.33,"e":0.3},{"s":"bl","x":48.5,"y":2.61,"e":0},
{"s":"br","x":10,"y":1.65,"e":0.12},{"s":"br","x":10.5,"y":1.49,"e":0.12},{"s":"br","x":11,"y":1.29,"e":0.1},{"s":"br","x":11.5,"y":1.6,"e":0.12},{"s":"br","x":12,"y":1.43,"e":0.12},{"s":"br","x":12.5,"y":1.49,"e":0.12},{"s":"br","x":13,"y":1.44,"e":0.12},{"s":"br","x":13.5,"y":1.66,"e":0.15},{"s":"br","x":14,"y":1.34,"e":0.12},{"s":"br","x":14.5,"y":1.49,"e":0.12},{"s":"br","x":15,"y":1.46,"e":0.12},{"s":"br","x":15.5,"y":1.44,"e":0.12},{"s":"br","x":16,"y":1.5,"e":0.12},{"s":"br","x":16.5,"y":1.44,"e":0.12},{"s":"br","x":17,"y":1.3,"e":0.12},{"s":"br","x":17.5,"y":1.49,"e":0.12},{"s":"br","x":18,"y":1.71,"e":0.15},{"s":"br","x":18.5,"y":1.95,"e":0.3},{"s":"br","x":19,"y":1.6,"e":0.15},{"s":"br","x":19.5,"y":1.65,"e":0.15},{"s":"br","x":20,"y":1.49,"e":0.12},{"s":"br","x":20.5,"y":1.91,"e":0.2},{"s":"br","x":21,"y":1.66,"e":0.15},{"s":"br","x":21.5,"y":1.55,"e":0.15},{"s":"br","x":22,"y":1.57,"e":0.15},{"s":"br","x":22.5,"y":1.6,"e":0.15},{"s":"br","x":23,"y":1.75,"e":0.15},{"s":"br","x":23.5,"y":1.6,"e":0.15},{"s":"br","x":24,"y":1.83,"e":0.2},{"s":"br","x":24.5,"y":1.77,"e":0.15},{"s":"br","x":25,"y":1.66,"e":0.15},{"s":"br","x":25.5,"y":1.71,"e":0.15},{"s":"br","x":26,"y":1.97,"e":0.2},{"s":"br","x":26.5,"y":1.57,"e":0.15},{"s":"br","x":27,"y":1.77,"e":0.15},{"s":"br","x":27.5,"y":2.06,"e":0.2},{"s":"br","x":28,"y":1.89,"e":0.2},{"s":"br","x":28.5,"y":1.89,"e":0.2},{"s":"br","x":29,"y":1.84,"e":0.2},{"s":"br","x":29.5,"y":2.64,"e":0.25},{"s":"br","x":30,"y":2.06,"e":0.2},{"s":"br","x":30.5,"y":1.74,"e":0.15},{"s":"br","x":31,"y":1.89,"e":0.2},{"s":"br","x":31.5,"y":1.6,"e":0.15},{"s":"br","x":32,"y":1.6,"e":0.15},{"s":"br","x":32.5,"y":1.54,"e":0.15},{"s":"br","x":33,"y":1.49,"e":0.12},{"s":"br","x":33.5,"y":1.57,"e":0.15},{"s":"br","x":34,"y":1.2,"e":0.1},{"s":"br","x":34.5,"y":1.37,"e":0.12},{"s":"br","x":35,"y":1.54,"e":0.15},{"s":"br","x":35.2,"y":1.83,"e":0.15},{"s":"br","x":35.5,"y":1.43,"e":0.12},{"s":"br","x":36,"y":1.54,"e":0.12},{"s":"br","x":36.5,"y":1.54,"e":0.12},{"s":"br","x":37,"y":2.11,"e":0.15},{"s":"br","x":37.5,"y":1.77,"e":0.15},{"s":"br","x":38,"y":1.6,"e":0.12},{"s":"br","x":38.5,"y":1.46,"e":0.12},{"s":"br","x":39,"y":1.6,"e":0.12},{"s":"br","x":39.5,"y":1.37,"e":0.12},{"s":"br","x":40,"y":1.51,"e":0.12},{"s":"br","x":40.5,"y":1.4,"e":0.12},{"s":"br","x":41,"y":1.37,"e":0.12},{"s":"br","x":41.5,"y":1.2,"e":0.1},{"s":"br","x":42,"y":1.94,"e":0.8},{"s":"br","x":42.5,"y":1.2,"e":0},
{"s":"or","x":10,"y":0.37,"e":0.15},{"s":"or","x":10.2,"y":0.13,"e":0.12},{"s":"or","x":10.7,"y":0.29,"e":0.15},{"s":"or","x":11.2,"y":-0.05,"e":0.1},{"s":"or","x":11.7,"y":0,"e":0.1},{"s":"or","x":12.2,"y":0.23,"e":0.15},{"s":"or","x":12.5,"y":0.43,"e":0.15},{"s":"or","x":13,"y":0.17,"e":0.12},{"s":"or","x":13.5,"y":0.34,"e":0.15},{"s":"or","x":14,"y":0.06,"e":0.12},{"s":"or","x":14.5,"y":0.11,"e":0.12},{"s":"or","x":15,"y":0.09,"e":0.12},{"s":"or","x":15.4,"y":0.66,"e":0.25},{"s":"or","x":16,"y":0.2,"e":0.15},{"s":"or","x":16.5,"y":0.3,"e":0.15},{"s":"or","x":16.9,"y":0.3,"e":0.15},{"s":"or","x":17.4,"y":0.22,"e":0.15},{"s":"or","x":17.9,"y":0.58,"e":0.25},{"s":"or","x":18.4,"y":1.29,"e":0.6},{"s":"or","x":18.9,"y":0.3,"e":0.15},{"s":"or","x":19.4,"y":0.6,"e":0.2},{"s":"or","x":19.9,"y":0.3,"e":0.15},{"s":"or","x":20.1,"y":-0.03,"e":0.1},{"s":"or","x":20.4,"y":0.51,"e":0.2},{"s":"or","x":20.9,"y":0.37,"e":0.15},{"s":"or","x":21.4,"y":0.45,"e":0.15},{"s":"or","x":21.9,"y":0.45,"e":0.15},{"s":"or","x":22.4,"y":0.14,"e":0.12},{"s":"or","x":22.9,"y":0.29,"e":0.15},{"s":"or","x":23.4,"y":0.14,"e":0.12},{"s":"or","x":23.9,"y":0.66,"e":0.25},{"s":"or","x":24.4,"y":0.29,"e":0.15},{"s":"or","x":24.9,"y":0.46,"e":0.15},{"s":"or","x":25.4,"y":0.47,"e":0.15},{"s":"or","x":25.9,"y":0.5,"e":0.15},{"s":"or","x":26.4,"y":0.41,"e":0.15},{"s":"or","x":26.9,"y":0.75,"e":0.25},{"s":"or","x":27.4,"y":0.59,"e":0.2},{"s":"or","x":27.9,"y":0.4,"e":0.15},{"s":"or","x":28.4,"y":0.36,"e":0.15},{"s":"or","x":28.9,"y":0.57,"e":0.18},{"s":"or","x":29.4,"y":0.49,"e":0.2},{"s":"or","x":29.9,"y":0.37,"e":0.15},{"s":"or","x":30.4,"y":0,"e":0.1},{"s":"or","x":30.9,"y":0.35,"e":0.15},{"s":"or","x":31.4,"y":0.23,"e":0.12},{"s":"or","x":31.9,"y":0.14,"e":0.12},{"s":"or","x":32.3,"y":0.13,"e":0.12},{"s":"or","x":32.9,"y":0.11,"e":0.12},{"s":"or","x":33.4,"y":0,"e":0.1},{"s":"or","x":33.9,"y":0.17,"e":0.12},{"s":"or","x":34.4,"y":-0.14,"e":0.08},{"s":"or","x":34.9,"y":-0.01,"e":0.1},{"s":"or","x":35.4,"y":0,"e":0.1},{"s":"or","x":35.9,"y":-0.01,"e":0.1},{"s":"or","x":36.3,"y":-0.01,"e":0.1},{"s":"or","x":36.9,"y":0.14,"e":0.12},{"s":"or","x":37.4,"y":0.03,"e":0.1},{"s":"or","x":37.9,"y":0.14,"e":0.12},{"s":"or","x":38.3,"y":0.2,"e":0.12},{"s":"or","x":38.9,"y":-0.06,"e":0.1},{"s":"or","x":39.3,"y":0.2,"e":0.12},{"s":"or","x":39.9,"y":0,"e":0.1},{"s":"or","x":40.3,"y":0.2,"e":0.12},{"s":"or","x":40.8,"y":0,"e":0.1},{"s":"or","x":41.3,"y":0.06,"e":0.1},{"s":"or","x":41.8,"y":-0.03,"e":0.1},{"s":"or","x":42.3,"y":-0.05,"e":0.1},{"s":"or","x":42.8,"y":0.14,"e":0.12},{"s":"or","x":43.3,"y":0,"e":0.1},{"s":"or","x":43.8,"y":0,"e":0.1},{"s":"or","x":44.3,"y":0.46,"e":0.25},{"s":"or","x":44.8,"y":0.3,"e":0.15},{"s":"or","x":45.3,"y":0.09,"e":0.12},{"s":"or","x":45.8,"y":-0.22,"e":0},{"s":"or","x":46.2,"y":-0.22,"e":0},{"s":"or","x":46.7,"y":-0.22,"e":0}
],
"cF": [
{"s":"bl","x":10,"y":2.87},{"s":"bl","x":14,"y":2.872},{"s":"bl","x":14.7,"y":2.908},{"s":"bl","x":15.1,"y":2.988},{"s":"bl","x":15.475,"y":3.153},{"s":"bl","x":15.85,"y":3.398},{"s":"bl","x":16.225,"y":3.637},{"s":"bl","x":16.6,"y":3.74},{"s":"bl","x":16.975,"y":3.637},{"s":"bl","x":17.35,"y":3.398},{"s":"bl","x":17.725,"y":3.153},{"s":"bl","x":18.1,"y":2.988},{"s":"bl","x":18.5,"y":2.908},{"s":"bl","x":19.2,"y":2.872},{"s":"bl","x":27.6,"y":2.872},{"s":"bl","x":28.25,"y":2.895},{"s":"bl","x":28.6,"y":2.946},{"s":"bl","x":28.95,"y":3.052},{"s":"bl","x":29.3,"y":3.21},{"s":"bl","x":29.65,"y":3.364},{"s":"bl","x":30,"y":3.43},{"s":"bl","x":30.35,"y":3.364},{"s":"bl","x":30.7,"y":3.21},{"s":"bl","x":31.05,"y":3.052},{"s":"bl","x":31.4,"y":2.946},{"s":"bl","x":31.75,"y":2.895},{"s":"bl","x":32.3,"y":2.872},{"s":"bl","x":50,"y":2.87},
{"s":"br","x":10,"y":1.486},{"s":"br","x":19,"y":1.487},{"s":"br","x":20.55,"y":1.5},{"s":"br","x":21.9,"y":1.531},{"s":"br","x":23.25,"y":1.593},{"s":"br","x":24.6,"y":1.686},{"s":"br","x":25.95,"y":1.777},{"s":"br","x":27.3,"y":1.816},{"s":"br","x":28.65,"y":1.777},{"s":"br","x":30,"y":1.686},{"s":"br","x":31.35,"y":1.593},{"s":"br","x":32.7,"y":1.531},{"s":"br","x":34.05,"y":1.5},{"s":"br","x":35,"y":1.488},{"s":"br","x":36.2,"y":1.488},{"s":"br","x":36.35,"y":1.515},{"s":"br","x":36.5,"y":1.574},{"s":"br","x":36.65,"y":1.697},{"s":"br","x":36.8,"y":1.881},{"s":"br","x":36.95,"y":2.059},{"s":"br","x":37.1,"y":2.136},{"s":"br","x":37.25,"y":2.059},{"s":"br","x":37.4,"y":1.881},{"s":"br","x":37.55,"y":1.697},{"s":"br","x":37.7,"y":1.574},{"s":"br","x":37.85,"y":1.515},{"s":"br","x":38.1,"y":1.488},{"s":"br","x":42,"y":1.486},
{"s":"or","x":10,"y":0},{"s":"or","x":11,"y":0.03},{"s":"or","x":12,"y":0.06},{"s":"or","x":13,"y":0.1},{"s":"or","x":14,"y":0.14},{"s":"or","x":15,"y":0.19},{"s":"or","x":16,"y":0.23},{"s":"or","x":17,"y":0.26},{"s":"or","x":18,"y":0.29},{"s":"or","x":19,"y":0.31},{"s":"or","x":19.5,"y":0.31},{"s":"or","x":20.5,"y":0.3},{"s":"or","x":21.5,"y":0.28},{"s":"or","x":22.5,"y":0.29},{"s":"or","x":23.5,"y":0.32},{"s":"or","x":24.5,"y":0.37},{"s":"or","x":25.5,"y":0.43},{"s":"or","x":26.5,"y":0.5},{"s":"or","x":27.2,"y":0.535},{"s":"or","x":27.7,"y":0.54},{"s":"or","x":28.3,"y":0.525},{"s":"or","x":29,"y":0.47},{"s":"or","x":29.7,"y":0.37},{"s":"or","x":30.4,"y":0.25},{"s":"or","x":31,"y":0.14},{"s":"or","x":31.6,"y":0.07},{"s":"or","x":32.3,"y":0.025},{"s":"or","x":33,"y":0.005},{"s":"or","x":34,"y":0},{"s":"or","x":45.9,"y":0}
],
"cA": [
{"s":"bl","x":10,"y":2.87,"b":2.87},{"s":"bl","x":15,"y":2.872,"b":2.87},{"s":"bl","x":16,"y":2.892,"b":2.87},{"s":"bl","x":16.7,"y":2.938,"b":2.87},{"s":"bl","x":17.4,"y":3.033,"b":2.87},{"s":"bl","x":18.1,"y":3.174,"b":2.87},{"s":"bl","x":18.8,"y":3.311,"b":2.87},{"s":"bl","x":19.5,"y":3.37,"b":2.87},{"s":"bl","x":20.2,"y":3.311,"b":2.87},{"s":"bl","x":20.9,"y":3.174,"b":2.87},{"s":"bl","x":21.6,"y":3.033,"b":2.87},{"s":"bl","x":22.3,"y":2.938,"b":2.87},{"s":"bl","x":23,"y":2.892,"b":2.87},{"s":"bl","x":24,"y":2.872,"b":2.87},{"s":"bl","x":27.5,"y":2.872,"b":2.87},{"s":"bl","x":28.3,"y":2.885,"b":2.87},{"s":"bl","x":28.9,"y":2.915,"b":2.87},{"s":"bl","x":29.5,"y":2.977,"b":2.87},{"s":"bl","x":30.1,"y":3.07,"b":2.87},{"s":"bl","x":30.7,"y":3.161,"b":2.87},{"s":"bl","x":31.3,"y":3.2,"b":2.87},{"s":"bl","x":31.9,"y":3.161,"b":2.87},{"s":"bl","x":32.5,"y":3.07,"b":2.87},{"s":"bl","x":33.1,"y":2.977,"b":2.87},{"s":"bl","x":33.7,"y":2.915,"b":2.87},{"s":"bl","x":34.3,"y":2.885,"b":2.87},{"s":"bl","x":35,"y":2.872,"b":2.87},{"s":"bl","x":45,"y":2.872,"b":2.87},{"s":"bl","x":45.75,"y":2.879,"b":2.87},{"s":"bl","x":46.5,"y":2.897,"b":2.87},{"s":"bl","x":47.25,"y":2.935,"b":2.87},{"s":"bl","x":48,"y":2.991,"b":2.87},{"s":"bl","x":48.75,"y":3.046,"b":2.87},{"s":"bl","x":49.5,"y":3.07,"b":2.87},{"s":"bl","x":50,"y":3.05,"b":2.87},
{"s":"br","x":10,"y":1.457,"b":1.457},{"s":"br","x":20.5,"y":1.46,"b":1.457},{"s":"br","x":21.5,"y":1.485,"b":1.457},{"s":"br","x":23.1,"y":1.542,"b":1.457},{"s":"br","x":24.7,"y":1.662,"b":1.457},{"s":"br","x":26.3,"y":1.839,"b":1.457},{"s":"br","x":27.9,"y":2.013,"b":1.457},{"s":"br","x":29.5,"y":2.087,"b":1.457},{"s":"br","x":30.65,"y":2.013,"b":1.457},{"s":"br","x":31.8,"y":1.839,"b":1.457},{"s":"br","x":32.95,"y":1.662,"b":1.457},{"s":"br","x":34.1,"y":1.542,"b":1.457},{"s":"br","x":35.25,"y":1.485,"b":1.457},{"s":"br","x":36.5,"y":1.46,"b":1.457},{"s":"br","x":44.5,"y":1.457,"b":1.457},{"s":"br","x":45.7,"y":1.468,"b":1.457},{"s":"br","x":46.4,"y":1.492,"b":1.457},{"s":"br","x":47.1,"y":1.54,"b":1.457},{"s":"br","x":47.8,"y":1.613,"b":1.457},{"s":"br","x":48.5,"y":1.684,"b":1.457},{"s":"br","x":49.2,"y":1.714,"b":1.457},{"s":"br","x":49.9,"y":1.684,"b":1.457},{"s":"br","x":50,"y":1.68,"b":1.457},
{"s":"or","x":10,"y":0,"b":0},{"s":"or","x":12,"y":0.02,"b":0},{"s":"or","x":14,"y":0.07,"b":0},{"s":"or","x":16,"y":0.13,"b":0},{"s":"or","x":18,"y":0.19,"b":0},{"s":"or","x":20,"y":0.22,"b":0},{"s":"or","x":21.5,"y":0.21,"b":0},{"s":"or","x":23,"y":0.22,"b":0},{"s":"or","x":24.5,"y":0.27,"b":0},{"s":"or","x":26,"y":0.33,"b":0},{"s":"or","x":27.3,"y":0.37,"b":0},{"s":"or","x":28.5,"y":0.34,"b":0},{"s":"or","x":29.5,"y":0.26,"b":0},{"s":"or","x":30.5,"y":0.15,"b":0},{"s":"or","x":31.5,"y":0.07,"b":0},{"s":"or","x":32.5,"y":0.02,"b":0},{"s":"or","x":33.5,"y":0,"b":0},{"s":"or","x":44.5,"y":0,"b":0},{"s":"or","x":45.5,"y":0.02,"b":0},{"s":"or","x":46.5,"y":0.07,"b":0},{"s":"or","x":47.5,"y":0.14,"b":0},{"s":"or","x":48.5,"y":0.19,"b":0},{"s":"or","x":49.3,"y":0.2,"b":0},{"s":"or","x":50,"y":0.19,"b":0}
],
"dP": [
{"s":"bl","x":10.1,"y":3.17,"e":0.3},{"s":"bl","x":10.4,"y":2.93,"e":0.28},{"s":"bl","x":11.1,"y":2.93,"e":0.28},{"s":"bl","x":11.6,"y":2.93,"e":0.28},{"s":"bl","x":12.1,"y":2.93,"e":0.28},{"s":"bl","x":12.6,"y":2.85,"e":0.28},{"s":"bl","x":13.1,"y":2.85,"e":0.28},{"s":"bl","x":13.6,"y":2.85,"e":0.28},{"s":"bl","x":14.1,"y":3.05,"e":0.28},{"s":"bl","x":14.6,"y":2.91,"e":0.28},{"s":"bl","x":15.1,"y":3.15,"e":0.3},{"s":"bl","x":15.6,"y":3.24,"e":0.3},{"s":"bl","x":16,"y":3.16,"e":0.3},{"s":"bl","x":16.6,"y":3.25,"e":0.3},{"s":"bl","x":17.1,"y":3.22,"e":0.3},{"s":"bl","x":17.6,"y":3.21,"e":0.3},{"s":"bl","x":18,"y":3.09,"e":0.3},{"s":"bl","x":18.6,"y":3.11,"e":0.3},{"s":"bl","x":19,"y":2.75,"e":0.28},{"s":"bl","x":19.5,"y":3.07,"e":0.3},{"s":"bl","x":20,"y":3.16,"e":0.3},{"s":"bl","x":20.5,"y":3.34,"e":0.3},{"s":"bl","x":21,"y":2.89,"e":0.28},{"s":"bl","x":21.5,"y":2.91,"e":0.28},{"s":"bl","x":22,"y":2.85,"e":0.28},{"s":"bl","x":22.5,"y":3.29,"e":0.3},{"s":"bl","x":23,"y":2.88,"e":0.28},{"s":"bl","x":23.5,"y":3.02,"e":0.28},{"s":"bl","x":24,"y":3.0,"e":0.28},{"s":"bl","x":24.5,"y":2.85,"e":0.28},{"s":"bl","x":25,"y":3.03,"e":0.28},{"s":"bl","x":25.5,"y":2.95,"e":0.28},{"s":"bl","x":26,"y":2.92,"e":0.28},{"s":"bl","x":26.5,"y":3.02,"e":0.28},{"s":"bl","x":27.1,"y":2.76,"e":0.28},{"s":"bl","x":27.5,"y":3.62,"e":0.3},{"s":"bl","x":28.1,"y":2.93,"e":0.28},{"s":"bl","x":28.5,"y":3.0,"e":0.3},{"s":"bl","x":29.05,"y":4.32,"e":0.35},{"s":"bl","x":29.7,"y":4.06,"e":0.4},{"s":"bl","x":30.5,"y":3.96,"e":0.5},{"s":"bl","x":31,"y":4.02,"e":0.4},{"s":"bl","x":31.5,"y":3.79,"e":0.35},{"s":"bl","x":32.1,"y":4.02,"e":0.35},{"s":"bl","x":33,"y":3.13,"e":0.3},{"s":"bl","x":33.5,"y":3.02,"e":0.28},{"s":"bl","x":34,"y":2.93,"e":0.28},{"s":"bl","x":34.5,"y":2.88,"e":0.28},{"s":"bl","x":35,"y":2.59,"e":0},{"s":"bl","x":35.5,"y":3.16,"e":0.3},{"s":"bl","x":36,"y":2.71,"e":0.28},{"s":"bl","x":36.5,"y":2.65,"e":0.25},{"s":"bl","x":37,"y":2.79,"e":0.28},{"s":"bl","x":37.5,"y":2.85,"e":0.28},{"s":"bl","x":38,"y":2.72,"e":0.28},{"s":"bl","x":38.5,"y":3.22,"e":0.3},{"s":"bl","x":39,"y":3.13,"e":0.3},{"s":"bl","x":39.5,"y":2.85,"e":0.28},{"s":"bl","x":40,"y":2.68,"e":0.25},{"s":"bl","x":40.5,"y":3.19,"e":0.3},{"s":"bl","x":41,"y":2.59,"e":0},{"s":"bl","x":41.5,"y":2.79,"e":0.28},{"s":"bl","x":42,"y":2.85,"e":0.28},{"s":"bl","x":42.5,"y":2.79,"e":0.28},{"s":"bl","x":43,"y":2.71,"e":0.28},{"s":"bl","x":43.5,"y":2.68,"e":0.25},{"s":"bl","x":44,"y":3.16,"e":0.3},{"s":"bl","x":44.5,"y":3.05,"e":0.3},{"s":"bl","x":45,"y":2.93,"e":0.28},{"s":"bl","x":45.5,"y":2.59,"e":0},{"s":"bl","x":46,"y":2.85,"e":0.28},{"s":"bl","x":46.5,"y":2.59,"e":0},{"s":"bl","x":47,"y":3.24,"e":0.3},{"s":"bl","x":47.5,"y":2.93,"e":0.28},{"s":"bl","x":48,"y":2.59,"e":0},{"s":"bl","x":48.5,"y":2.59,"e":0},{"s":"bl","x":49,"y":2.59,"e":0},
{"s":"br","x":10.1,"y":1.65,"e":0.3},{"s":"br","x":10.6,"y":1.51,"e":0.3},{"s":"br","x":11,"y":1.82,"e":0.35},{"s":"br","x":11.6,"y":2.01,"e":0.4},{"s":"br","x":12,"y":1.97,"e":0.35},{"s":"br","x":12.6,"y":1.88,"e":0.3},{"s":"br","x":13,"y":1.65,"e":0.3},{"s":"br","x":13.6,"y":1.2,"e":0},{"s":"br","x":14,"y":1.2,"e":0},{"s":"br","x":14.5,"y":1.78,"e":0.3},{"s":"br","x":15,"y":1.2,"e":0},{"s":"br","x":15.6,"y":1.2,"e":0},{"s":"br","x":16,"y":1.6,"e":0.3},{"s":"br","x":16.6,"y":1.2,"e":0},{"s":"br","x":17,"y":1.54,"e":0.3},{"s":"br","x":17.6,"y":1.57,"e":0.3},{"s":"br","x":18,"y":1.88,"e":0.35},{"s":"br","x":18.6,"y":1.57,"e":0.3},{"s":"br","x":19,"y":1.6,"e":0.3},{"s":"br","x":19.5,"y":1.79,"e":0.35},{"s":"br","x":20,"y":1.94,"e":0.5},{"s":"br","x":20.5,"y":1.54,"e":0.3},{"s":"br","x":21,"y":1.7,"e":0.3},{"s":"br","x":21.5,"y":1.2,"e":0},{"s":"br","x":22,"y":1.51,"e":0.3},{"s":"br","x":22.5,"y":1.65,"e":0.3},{"s":"br","x":23,"y":1.6,"e":0.3},{"s":"br","x":23.5,"y":1.34,"e":0.2},{"s":"br","x":24,"y":1.6,"e":0.3},{"s":"br","x":24.5,"y":1.65,"e":0.3},{"s":"br","x":25,"y":2.08,"e":0.35},{"s":"br","x":25.5,"y":1.88,"e":0.35},{"s":"br","x":26,"y":2.95,"e":0.2},{"s":"br","x":26.5,"y":2.38,"e":0.6},{"s":"br","x":27,"y":1.44,"e":0.25},{"s":"br","x":27.5,"y":1.6,"e":0.3},{"s":"br","x":28,"y":1.82,"e":0.35},{"s":"br","x":28.5,"y":1.72,"e":0.3},{"s":"br","x":29,"y":1.85,"e":0.35},{"s":"br","x":29.5,"y":1.77,"e":0.3},{"s":"br","x":30,"y":1.57,"e":0.3},{"s":"br","x":30.5,"y":1.71,"e":0.3},{"s":"br","x":31,"y":1.89,"e":0.35},{"s":"br","x":31.5,"y":1.65,"e":0.3},{"s":"br","x":32,"y":1.79,"e":0.3},{"s":"br","x":32.5,"y":1.6,"e":0.3},{"s":"br","x":33,"y":1.31,"e":0.2},{"s":"br","x":33.5,"y":1.54,"e":0.3},{"s":"br","x":34,"y":1.45,"e":0.25},{"s":"br","x":34.5,"y":1.85,"e":0.3},{"s":"br","x":35,"y":1.88,"e":0.3},{"s":"br","x":35.5,"y":1.72,"e":0.3},{"s":"br","x":36,"y":1.2,"e":0},{"s":"br","x":36.5,"y":1.54,"e":0.25},{"s":"br","x":37,"y":1.51,"e":0.25},{"s":"br","x":37.5,"y":1.6,"e":0.25},{"s":"br","x":38,"y":1.42,"e":0.25},{"s":"br","x":38.5,"y":1.82,"e":0.3},{"s":"br","x":39,"y":2.02,"e":0.3},{"s":"br","x":39.5,"y":2.04,"e":0.3},{"s":"br","x":40,"y":2.05,"e":0.3},{"s":"br","x":40.5,"y":2.28,"e":0.35},{"s":"br","x":41,"y":1.2,"e":0},{"s":"br","x":41.5,"y":1.2,"e":0},{"s":"br","x":42,"y":1.78,"e":0.5},{"s":"br","x":42.5,"y":1.77,"e":0.3},{"s":"br","x":43,"y":1.2,"e":0},{"s":"br","x":43.5,"y":1.2,"e":0},{"s":"br","x":44,"y":1.2,"e":0},{"s":"br","x":44.5,"y":1.2,"e":0},{"s":"br","x":45,"y":1.2,"e":0},
{"s":"or","x":10.1,"y":0.14,"e":0.12},{"s":"or","x":10.5,"y":-0.03,"e":0.1},{"s":"or","x":11,"y":-0.19,"e":0},{"s":"or","x":11.5,"y":0,"e":0.1},{"s":"or","x":12,"y":0.26,"e":0.15},{"s":"or","x":12.6,"y":-0.19,"e":0},{"s":"or","x":13.1,"y":0.085,"e":0.12},{"s":"or","x":13.4,"y":0.77,"e":0.3},{"s":"or","x":13.9,"y":0.34,"e":0.2},{"s":"or","x":14.4,"y":0.34,"e":0.2},{"s":"or","x":14.8,"y":0.5,"e":0.2},{"s":"or","x":15.4,"y":0.57,"e":0.25},{"s":"or","x":15.8,"y":0.51,"e":0.2},{"s":"or","x":16.4,"y":0.68,"e":0.25},{"s":"or","x":16.8,"y":0.46,"e":0.2},{"s":"or","x":17.4,"y":0.57,"e":0.22},{"s":"or","x":17.8,"y":0.63,"e":0.22},{"s":"or","x":18.4,"y":0.63,"e":0.22},{"s":"or","x":18.8,"y":0.57,"e":0.22},{"s":"or","x":19.3,"y":0.51,"e":0.2},{"s":"or","x":19.8,"y":0.62,"e":0.22},{"s":"or","x":20.3,"y":0.5,"e":0.2},{"s":"or","x":20.8,"y":0.46,"e":0.2},{"s":"or","x":21.3,"y":0.39,"e":0.18},{"s":"or","x":21.8,"y":0.54,"e":0.2},{"s":"or","x":22.3,"y":0.35,"e":0.15},{"s":"or","x":22.8,"y":0.23,"e":0.15},{"s":"or","x":23.3,"y":0.4,"e":0.18},{"s":"or","x":23.8,"y":0.03,"e":0.1},{"s":"or","x":24.3,"y":0.06,"e":0.1},{"s":"or","x":24.8,"y":0.2,"e":0.15},{"s":"or","x":25.3,"y":0.35,"e":0.15},{"s":"or","x":25.8,"y":0.37,"e":0.15},{"s":"or","x":26.3,"y":0.43,"e":0.18},{"s":"or","x":26.8,"y":0.06,"e":0.1},{"s":"or","x":27.3,"y":0.2,"e":0.15},{"s":"or","x":27.8,"y":0.085,"e":0.12},{"s":"or","x":28.3,"y":0.125,"e":0.12},{"s":"or","x":28.8,"y":0.3,"e":0.15},{"s":"or","x":29.3,"y":0.01,"e":0.1},{"s":"or","x":29.8,"y":0.01,"e":0.1},{"s":"or","x":30.3,"y":0.06,"e":0.1},{"s":"or","x":30.8,"y":0.01,"e":0.1},{"s":"or","x":31.3,"y":0.06,"e":0.1},{"s":"or","x":31.8,"y":0.03,"e":0.1},{"s":"or","x":32.3,"y":0.085,"e":0.1},{"s":"or","x":32.8,"y":0.22,"e":0.12},{"s":"or","x":33.3,"y":0.17,"e":0.12},{"s":"or","x":33.8,"y":0.14,"e":0.12},{"s":"or","x":34.3,"y":0.17,"e":0.12},{"s":"or","x":34.8,"y":0.11,"e":0.1},{"s":"or","x":35.3,"y":0.125,"e":0.1},{"s":"or","x":35.8,"y":0.03,"e":0.1},{"s":"or","x":36.3,"y":0.06,"e":0.1},{"s":"or","x":36.8,"y":0.17,"e":0.12},{"s":"or","x":37.3,"y":0.14,"e":0.12},{"s":"or","x":37.8,"y":0.17,"e":0.12},{"s":"or","x":38.3,"y":0.17,"e":0.12},{"s":"or","x":38.8,"y":0.2,"e":0.12},{"s":"or","x":39.3,"y":0.31,"e":0.15},{"s":"or","x":39.8,"y":-0.19,"e":0},{"s":"or","x":40.3,"y":0.28,"e":0.15},{"s":"or","x":40.8,"y":-0.19,"e":0},{"s":"or","x":41.4,"y":3.17,"e":4},{"s":"or","x":42,"y":-0.19,"e":0}
],
"dF": [
{"s":"bl","x":10,"y":2.889},{"s":"bl","x":27.3,"y":2.892},{"s":"bl","x":28.05,"y":2.948},{"s":"bl","x":28.55,"y":3.069},{"s":"bl","x":29.05,"y":3.321},{"s":"bl","x":29.55,"y":3.696},{"s":"bl","x":30.05,"y":4.062},{"s":"bl","x":30.55,"y":4.219},{"s":"bl","x":31.05,"y":4.062},{"s":"bl","x":31.55,"y":3.696},{"s":"bl","x":32.05,"y":3.321},{"s":"bl","x":32.55,"y":3.069},{"s":"bl","x":33.05,"y":2.948},{"s":"bl","x":33.8,"y":2.895},{"s":"bl","x":50,"y":2.889},
{"s":"br","x":10,"y":1.527},{"s":"br","x":25.2,"y":1.528},{"s":"br","x":25.375,"y":1.589},{"s":"br","x":25.5,"y":1.717},{"s":"br","x":25.625,"y":1.985},{"s":"br","x":25.75,"y":2.382},{"s":"br","x":25.875,"y":2.772},{"s":"br","x":26,"y":2.937},{"s":"br","x":26.125,"y":2.772},{"s":"br","x":26.25,"y":2.382},{"s":"br","x":26.375,"y":1.985},{"s":"br","x":26.5,"y":1.717},{"s":"br","x":26.625,"y":1.589},{"s":"br","x":26.8,"y":1.537},{"s":"br","x":27.3,"y":1.537},{"s":"br","x":27.8,"y":1.554},{"s":"br","x":28.3,"y":1.59},{"s":"br","x":28.8,"y":1.642},{"s":"br","x":29.3,"y":1.694},{"s":"br","x":29.8,"y":1.717},{"s":"br","x":30.3,"y":1.694},{"s":"br","x":30.8,"y":1.642},{"s":"br","x":31.3,"y":1.59},{"s":"br","x":31.8,"y":1.554},{"s":"br","x":32.3,"y":1.536},{"s":"br","x":33,"y":1.528},{"s":"br","x":38.6,"y":1.528},{"s":"br","x":39.15,"y":1.556},{"s":"br","x":39.5,"y":1.615},{"s":"br","x":39.85,"y":1.738},{"s":"br","x":40.2,"y":1.921},{"s":"br","x":40.55,"y":2.1},{"s":"br","x":40.9,"y":2.177},{"s":"br","x":41.25,"y":2.1},{"s":"br","x":41.6,"y":1.921},{"s":"br","x":41.95,"y":1.738},{"s":"br","x":42.3,"y":1.615},{"s":"br","x":42.65,"y":1.556},{"s":"br","x":43.2,"y":1.53},{"s":"br","x":45,"y":1.527},
{"s":"or","x":10,"y":0.071},{"s":"or","x":11.3,"y":0.087},{"s":"or","x":12.7,"y":0.133},{"s":"or","x":14.1,"y":0.228},{"s":"or","x":15.5,"y":0.369},{"s":"or","x":16.9,"y":0.506},{"s":"or","x":18.3,"y":0.565},{"s":"or","x":19.7,"y":0.506},{"s":"or","x":21.1,"y":0.369},{"s":"or","x":22.5,"y":0.228},{"s":"or","x":23.9,"y":0.134},{"s":"or","x":24.6,"y":0.122},{"s":"or","x":25.3,"y":0.178},{"s":"or","x":25.7,"y":0.25},{"s":"or","x":26.1,"y":0.322},{"s":"or","x":26.5,"y":0.352},{"s":"or","x":26.9,"y":0.317},{"s":"or","x":27.3,"y":0.239},{"s":"or","x":27.7,"y":0.159},{"s":"or","x":28.1,"y":0.105},{"s":"or","x":28.5,"y":0.078},{"s":"or","x":29.2,"y":0.066},{"s":"or","x":46,"y":0.065}
],
"dA": [
{"s":"bl","x":10,"y":2.889,"b":2.889},{"s":"bl","x":26,"y":2.89,"b":2.889},{"s":"bl","x":27,"y":2.935,"b":2.889},{"s":"bl","x":27.7,"y":3.03,"b":2.889},{"s":"bl","x":28.4,"y":3.227,"b":2.889},{"s":"bl","x":29.1,"y":3.52,"b":2.889},{"s":"bl","x":29.8,"y":3.806,"b":2.889},{"s":"bl","x":30.5,"y":3.929,"b":2.889},{"s":"bl","x":31.2,"y":3.806,"b":2.889},{"s":"bl","x":31.9,"y":3.52,"b":2.889},{"s":"bl","x":32.6,"y":3.227,"b":2.889},{"s":"bl","x":33.3,"y":3.03,"b":2.889},{"s":"bl","x":34,"y":2.935,"b":2.889},{"s":"bl","x":35,"y":2.895,"b":2.889},{"s":"bl","x":50,"y":2.889,"b":2.889},
{"s":"br","x":10,"y":1.527,"b":1.527},{"s":"br","x":21.2,"y":1.528,"b":1.527},{"s":"br","x":22.05,"y":1.542,"b":1.527},{"s":"br","x":22.7,"y":1.575,"b":1.527},{"s":"br","x":23.35,"y":1.641,"b":1.527},{"s":"br","x":24,"y":1.74,"b":1.527},{"s":"br","x":24.65,"y":1.836,"b":1.527},{"s":"br","x":25.3,"y":1.877,"b":1.527},{"s":"br","x":25.95,"y":1.836,"b":1.527},{"s":"br","x":26.6,"y":1.74,"b":1.527},{"s":"br","x":27.25,"y":1.641,"b":1.527},{"s":"br","x":27.9,"y":1.575,"b":1.527},{"s":"br","x":28.55,"y":1.542,"b":1.527},{"s":"br","x":29.3,"y":1.53,"b":1.527},{"s":"br","x":37.3,"y":1.528,"b":1.527},{"s":"br","x":38.05,"y":1.548,"b":1.527},{"s":"br","x":38.7,"y":1.591,"b":1.527},{"s":"br","x":39.35,"y":1.68,"b":1.527},{"s":"br","x":40,"y":1.812,"b":1.527},{"s":"br","x":40.65,"y":1.942,"b":1.527},{"s":"br","x":41.3,"y":1.997,"b":1.527},{"s":"br","x":42.3,"y":1.942,"b":1.527},{"s":"br","x":43.3,"y":1.812,"b":1.527},{"s":"br","x":44.3,"y":1.68,"b":1.527},{"s":"br","x":45.3,"y":1.591,"b":1.527},{"s":"br","x":46.3,"y":1.548,"b":1.527},{"s":"br","x":47.5,"y":1.532,"b":1.527},{"s":"br","x":50,"y":1.527,"b":1.527},
{"s":"or","x":10,"y":0.065,"b":0.065},{"s":"or","x":12.2,"y":0.066,"b":0.065},{"s":"or","x":13.05,"y":0.077,"b":0.065},{"s":"or","x":13.7,"y":0.101,"b":0.065},{"s":"or","x":14.35,"y":0.153,"b":0.065},{"s":"or","x":15,"y":0.229,"b":0.065},{"s":"or","x":15.65,"y":0.303,"b":0.065},{"s":"or","x":16.3,"y":0.335,"b":0.065},{"s":"or","x":16.95,"y":0.303,"b":0.065},{"s":"or","x":17.6,"y":0.229,"b":0.065},{"s":"or","x":18.25,"y":0.153,"b":0.065},{"s":"or","x":18.9,"y":0.101,"b":0.065},{"s":"or","x":19.55,"y":0.077,"b":0.065},{"s":"or","x":20.3,"y":0.067,"b":0.065},{"s":"or","x":21.75,"y":0.072,"b":0.065},{"s":"or","x":22.5,"y":0.085,"b":0.065},{"s":"or","x":23.25,"y":0.114,"b":0.065},{"s":"or","x":24,"y":0.156,"b":0.065},{"s":"or","x":24.75,"y":0.197,"b":0.065},{"s":"or","x":25.5,"y":0.215,"b":0.065},{"s":"or","x":26.25,"y":0.197,"b":0.065},{"s":"or","x":27,"y":0.156,"b":0.065},{"s":"or","x":27.75,"y":0.114,"b":0.065},{"s":"or","x":28.5,"y":0.085,"b":0.065},{"s":"or","x":29.25,"y":0.072,"b":0.065},{"s":"or","x":30,"y":0.066,"b":0.065},{"s":"or","x":38,"y":0.066,"b":0.065},{"s":"or","x":38.7,"y":0.087,"b":0.065},{"s":"or","x":39.3,"y":0.133,"b":0.065},{"s":"or","x":39.9,"y":0.228,"b":0.065},{"s":"or","x":40.5,"y":0.369,"b":0.065},{"s":"or","x":41.1,"y":0.506,"b":0.065},{"s":"or","x":41.7,"y":0.565,"b":0.065},{"s":"or","x":42.8,"y":0.506,"b":0.065},{"s":"or","x":43.9,"y":0.369,"b":0.065},{"s":"or","x":45,"y":0.228,"b":0.065},{"s":"or","x":46.1,"y":0.133,"b":0.065},{"s":"or","x":47.2,"y":0.087,"b":0.065},{"s":"or","x":48.5,"y":0.07,"b":0.065},{"s":"or","x":50,"y":0.066,"b":0.065}
]
},
"spacing": 13,
"resolve": {"scale": {"color": "independent", "stroke": "independent", "fill": "independent", "x": "independent", "y": "independent"}, "legend": {"color": "independent"}},
"vconcat": [
{"spacing": 5,
 "resolve": {"scale": {"color": "independent", "stroke": "independent", "fill": "independent", "x": "independent", "y": "independent"}, "legend": {"color": "independent"}},
 "hconcat": [
 {"width": 281, "height": 281,
  "title": {"text": "(a)\u00a0\u00a0\u00a0\u00a0\u00a0\u00a0R-point", "anchor": "start", "dx": 6, "offset": -25},
  "resolve": {"scale": {"color": "independent"}},
  "encoding": {
   "x": {"field": "x", "type": "quantitative", "scale": {"domain": [10, 50], "nice": false}, "axis": {"values": [10, 20, 30, 40, 50], "title": "Energy (meV)"}},
   "y": {"field": "y", "type": "quantitative", "scale": {"domain": [-0.095, 2.0], "nice": false, "zero": false}, "axis": {"values": [0, 1, 2], "title": "Intensity (arb.u.)"}}
  },
  "layer": [
   {"data": {"name": "aA"}, "mark": {"type": "area", "interpolate": "monotone", "clip": true}, "encoding": {"y2": {"field": "b"}, "fill": {"field": "s", "type": "nominal", "scale": {"domain": ["or"], "range": ["#f9b679"]}, "legend": null}}},
   {"data": {"name": "aP"}, "mark": {"type": "errorbar", "ticks": true, "thickness": 1.2, "opacity": 0.85, "clip": true}, "encoding": {"yError": {"field": "e"}, "color": {"field": "s", "type": "nominal", "scale": {"domain": ["or"], "range": ["#ef8423"]}, "legend": null}}},
   {"data": {"name": "aP"}, "mark": {"type": "point", "filled": true, "size": 90, "strokeWidth": 0.8, "opacity": 1, "clip": true}, "encoding": {"color": {"field": "s", "type": "nominal", "scale": {"domain": ["or"], "range": ["#f7861c"]}, "legend": {"title": null, "orient": "top-right", "labelExpr": "'Q\u00a0\u00a0= (0.5 1.5 5.5)'"}}, "stroke": {"field": "s", "type": "nominal", "scale": {"domain": ["or"], "range": ["#cf6a12"]}, "legend": null}}},
   {"data": {"name": "aF"}, "mark": {"type": "line", "interpolate": "monotone", "strokeWidth": 2, "clip": true}, "encoding": {"stroke": {"field": "s", "type": "nominal", "legend": null}}}
  ]},
 {"width": 280, "height": 281,
  "title": {"text": "X-point\u00a0\u00a0\u00a0\u00a0\u00a0\u00a0(b)", "anchor": "end", "dx": -12, "offset": -26},
  "resolve": {"scale": {"color": "independent"}},
  "encoding": {
   "x": {"field": "x", "type": "quantitative", "scale": {"domain": [10, 50], "nice": false}, "axis": {"values": [10, 20, 30, 40, 50], "title": "Energy (meV)"}},
   "y": {"field": "y", "type": "quantitative", "scale": {"domain": [-0.39, 4.4], "nice": false, "zero": false}, "axis": {"values": [0, 1, 2, 3, 4], "title": "Intensity (arb.u.)"}}
  },
  "layer": [
   {"data": {"name": "bA"}, "mark": {"type": "area", "interpolate": "monotone", "clip": true}, "encoding": {"y2": {"field": "b"}, "fill": {"field": "s", "type": "nominal", "scale": {"domain": ["bl", "br", "or"], "range": ["#a3bcd8", "#d8c4ac", "#f9b679"]}, "legend": null}}},
   {"data": {"name": "bP"}, "mark": {"type": "errorbar", "ticks": true, "thickness": 1.2, "opacity": 0.85, "clip": true}, "encoding": {"yError": {"field": "e"}, "color": {"field": "s", "type": "nominal", "scale": {"domain": ["bl", "br", "or"], "range": ["#4a79aa", "#a47c56", "#ef8423"]}, "legend": null}}},
   {"data": {"name": "bP"}, "mark": {"type": "point", "filled": true, "size": 90, "strokeWidth": 0.8, "opacity": 1, "clip": true}, "encoding": {"color": {"field": "s", "type": "nominal", "scale": {"domain": ["bl", "br", "or"], "range": ["#4a79aa", "#a47c56", "#f7861c"]}, "legend": {"title": null, "orient": "top-left", "labelExpr": "datum.label == 'bl' ? 'Q\u00a0\u00a0= (0.5 2 4)' : datum.label == 'br' ? 'Q\u00a0\u00a0= (0.5 3 4)' : 'Q\u00a0\u00a0= (0.5 2 5)'"}}, "stroke": {"field": "s", "type": "nominal", "scale": {"domain": ["bl", "br", "or"], "range": ["#35618f", "#86603a", "#cf6a12"]}, "legend": null}}},
   {"data": {"name": "bF"}, "mark": {"type": "line", "interpolate": "monotone", "strokeWidth": 2, "clip": true}, "encoding": {"stroke": {"field": "s", "type": "nominal", "legend": null}}}
  ]}
 ]},
{"spacing": 5,
 "resolve": {"scale": {"color": "independent", "stroke": "independent", "fill": "independent", "x": "independent", "y": "independent"}, "legend": {"color": "independent"}},
 "hconcat": [
 {"width": 281, "height": 278,
  "title": {"text": "(c)\u00a0\u00a0\u00a0\u00a0Y-point", "anchor": "start", "dx": 6, "offset": -21},
  "resolve": {"scale": {"color": "independent"}},
  "encoding": {
   "x": {"field": "x", "type": "quantitative", "scale": {"domain": [10, 50], "nice": false}, "axis": {"values": [10, 20, 30, 40, 50], "title": "Energy (meV)"}},
   "y": {"field": "y", "type": "quantitative", "scale": {"domain": [-0.4, 4.37], "nice": false, "zero": false}, "axis": {"values": [0, 1, 2, 3, 4], "title": "Intensity (arb.u.)"}}
  },
  "layer": [
   {"data": {"name": "cA"}, "mark": {"type": "area", "interpolate": "monotone", "clip": true}, "encoding": {"y2": {"field": "b"}, "fill": {"field": "s", "type": "nominal", "scale": {"domain": ["bl", "br", "or"], "range": ["#a3bcd8", "#d8c4ac", "#f9b679"]}, "legend": null}}},
   {"data": {"name": "cP"}, "mark": {"type": "errorbar", "ticks": true, "thickness": 1.2, "opacity": 0.85, "clip": true}, "encoding": {"yError": {"field": "e"}, "color": {"field": "s", "type": "nominal", "scale": {"domain": ["bl", "br", "or"], "range": ["#4a79aa", "#a47c56", "#ef8423"]}, "legend": null}}},
   {"data": {"name": "cP"}, "mark": {"type": "point", "filled": true, "size": 90, "strokeWidth": 0.8, "opacity": 1, "clip": true}, "encoding": {"color": {"field": "s", "type": "nominal", "scale": {"domain": ["bl", "br", "or"], "range": ["#4a79aa", "#a47c56", "#f7861c"]}, "legend": {"title": null, "orient": "top-right", "labelExpr": "datum.label == 'bl' ? 'Q\u00a0\u00a0= (0 2.5 5)' : datum.label == 'br' ? 'Q\u00a0\u00a0= (1 0.5 7)' : 'Q\u00a0\u00a0= (1 2.5 5)'"}}, "stroke": {"field": "s", "type": "nominal", "scale": {"domain": ["bl", "br", "or"], "range": ["#35618f", "#86603a", "#cf6a12"]}, "legend": null}}},
   {"data": {"name": "cF"}, "mark": {"type": "line", "interpolate": "monotone", "strokeWidth": 2, "clip": true}, "encoding": {"stroke": {"field": "s", "type": "nominal", "legend": null}}}
  ]},
 {"width": 280, "height": 278,
  "title": {"text": "(d)\u00a0\u00a0\u00a0Z-point", "anchor": "start", "dx": 12, "offset": -26},
  "resolve": {"scale": {"color": "independent"}},
  "encoding": {
   "x": {"field": "x", "type": "quantitative", "scale": {"domain": [10, 50], "nice": false}, "axis": {"values": [10, 20, 30, 40, 50], "title": "Energy (meV)"}},
   "y": {"field": "y", "type": "quantitative", "scale": {"domain": [-0.4, 4.36], "nice": false, "zero": false}, "axis": {"values": [0, 1, 2, 3, 4], "title": "Intensity (arb.u.)"}}
  },
  "layer": [
   {"data": {"name": "dA"}, "mark": {"type": "area", "interpolate": "monotone", "clip": true}, "encoding": {"y2": {"field": "b"}, "fill": {"field": "s", "type": "nominal", "scale": {"domain": ["bl", "br", "or"], "range": ["#a3bcd8", "#d8c4ac", "#f9b679"]}, "legend": null}}},
   {"data": {"name": "dP"}, "mark": {"type": "errorbar", "ticks": true, "thickness": 1.2, "opacity": 0.85, "clip": true}, "encoding": {"yError": {"field": "e"}, "color": {"field": "s", "type": "nominal", "scale": {"domain": ["bl", "br", "or"], "range": ["#4a79aa", "#a47c56", "#ef8423"]}, "legend": null}}},
   {"data": {"name": "dP"}, "mark": {"type": "point", "filled": true, "size": 90, "strokeWidth": 0.8, "opacity": 1, "clip": true}, "encoding": {"color": {"field": "s", "type": "nominal", "scale": {"domain": ["bl", "br", "or"], "range": ["#4a79aa", "#a47c56", "#f7861c"]}, "legend": {"title": null, "orient": "top-right", "labelExpr": "datum.label == 'bl' ? 'Q\u00a0\u00a0= (0 1 6.5)' : datum.label == 'br' ? 'Q\u00a0\u00a0= (0 3 4.5)' : 'Q\u00a0\u00a0= (1 3 4.5)'"}}, "stroke": {"field": "s", "type": "nominal", "scale": {"domain": ["bl", "br", "or"], "range": ["#35618f", "#86603a", "#cf6a12"]}, "legend": null}}},
   {"data": {"name": "dF"}, "mark": {"type": "line", "interpolate": "monotone", "strokeWidth": 2, "clip": true}, "encoding": {"stroke": {"field": "s", "type": "nominal", "legend": null}}}
  ]}
 ]}
]
}
